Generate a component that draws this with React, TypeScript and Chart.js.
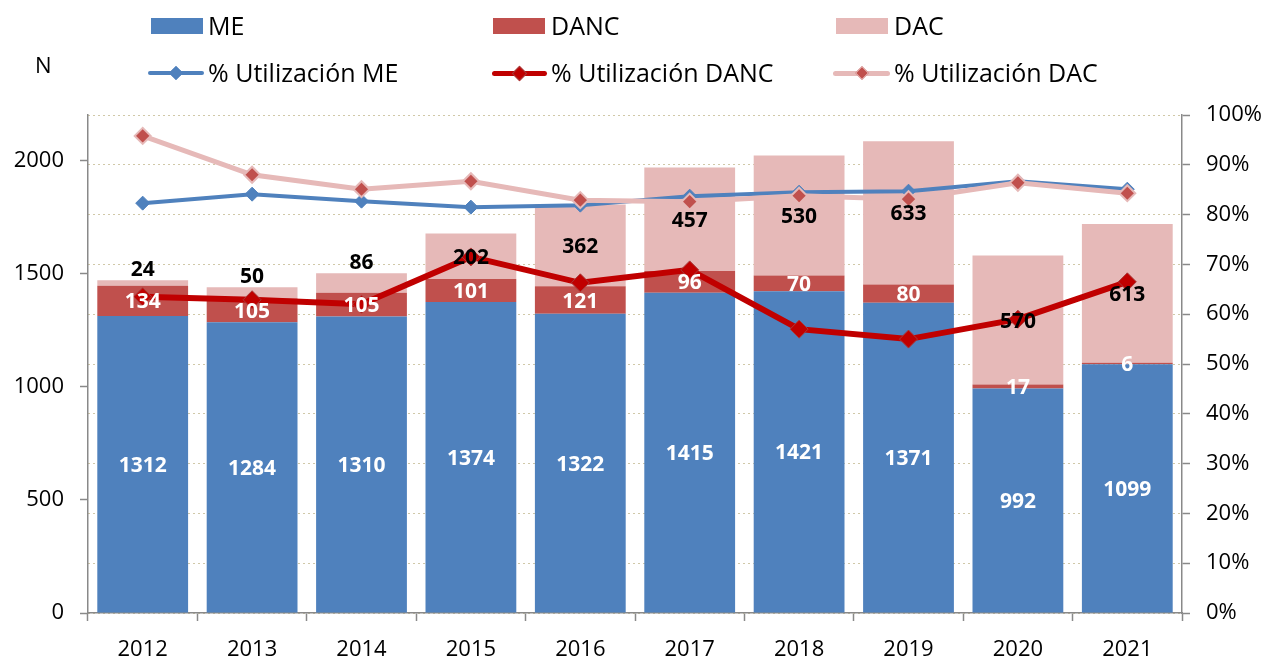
import React, { useEffect, useRef } from 'react';
import { Chart, registerables } from 'chart.js';

Chart.register(...registerables);

// ---- data ----
const years = ['2012', '2013', '2014', '2015', '2016', '2017', '2018', '2019', '2020', '2021'];
const meValues = [1312, 1284, 1310, 1374, 1322, 1415, 1421, 1371, 992, 1099];
const dancValues = [134, 105, 105, 101, 121, 96, 70, 80, 17, 6];
const dacValues = [24, 50, 86, 202, 362, 457, 530, 633, 570, 613];
const pctME = [82.3, 84.1, 82.7, 81.5, 81.9, 83.7, 84.5, 84.7, 86.7, 85.1];
const pctDANC = [63.5, 62.9, 62.0, 71.5, 66.3, 68.9, 57.0, 55.0, 59.0, 66.5];
const pctDAC = [95.8, 88.0, 85.1, 86.7, 82.9, 82.6, 83.8, 83.1, 86.4, 84.3];
const leftTicks = [0, 500, 1000, 1500, 2000];
const leftMax = 2200;
const rightTickStep = 10;

const FONT = '"Open Sans", "Noto Sans", sans-serif';
const AXIS = '#898989';
const C_ME = '#4F81BD';
const C_DANC = '#C0504D';
const C_DAC = '#E6B9B8';
const C_DANC_LINE = '#C00000';

const barLabelPlugin = {
  id: 'barLabels',
  afterDatasetsDraw(chart: any) {
    const ctx = chart.ctx;
    chart.data.datasets.forEach((ds: any, di: number) => {
      if (ds.type !== 'bar') return;
      const meta = chart.getDatasetMeta(di);
      ctx.save();
      ctx.font = `bold 21px ${FONT}`;
      ctx.fillStyle = ds.labelColor;
      ctx.textAlign = 'center';
      ctx.textBaseline = 'alphabetic';
      meta.data.forEach((el: any, i: number) => {
        const p = el.getProps(['x', 'y', 'base'], true);
        const h = Math.abs(p.base - p.y);
        let cy = (p.y + p.base) / 2;
        if (ds.labelAboveIfSmall && h < 22) cy = Math.min(p.y, p.base) - 12;
        ctx.fillText(String(ds.data[i]), p.x, cy + 7.5);
      });
      ctx.restore();
    });
  },
};

const legendRow1 = [
  { label: 'ME', color: C_ME, x: 151, tx: 208 },
  { label: 'DANC', color: C_DANC, x: 493, tx: 551 },
  { label: 'DAC', color: C_DAC, x: 836, tx: 894 },
];
const legendRow2 = [
  { label: '% Utilización ME', line: C_ME, fill: C_ME, edge: C_ME, lw: 4, x: 148, w: 56, d: 10, tx: 208 },
  { label: '% Utilización DANC', line: C_DANC_LINE, fill: C_DANC_LINE, edge: '#A83A3A', lw: 5, x: 492, w: 55, d: 11, tx: 551 },
  { label: '% Utilización DAC', line: C_DAC, fill: C_DANC, edge: C_DAC, lw: 5, x: 833, w: 57, d: 10, tx: 894 },
];

export default function App() {
  const ref = useRef<HTMLCanvasElement>(null);

  useEffect(() => {
    const tickFont = { family: FONT, size: 22 };
    const chart = new Chart(ref.current as HTMLCanvasElement, {
      type: 'bar',
      data: {
        labels: years,
        datasets: [
          {
            type: 'line', label: '% Utilización ME', data: pctME, yAxisID: 'y1', order: 3,
            borderColor: C_ME, borderWidth: 4, pointStyle: 'rectRot', pointRadius: 7,
            pointBackgroundColor: C_ME, pointBorderColor: C_ME, pointBorderWidth: 1, tension: 0,
          },
          {
            type: 'line', label: '% Utilización DANC', data: pctDANC, yAxisID: 'y1', order: 2,
            borderColor: C_DANC_LINE, borderWidth: 6, pointStyle: 'rectRot', pointRadius: 9,
            pointBackgroundColor: C_DANC_LINE, pointBorderColor: '#A83A3A', pointBorderWidth: 1, tension: 0,
          },
          {
            type: 'line', label: '% Utilización DAC', data: pctDAC, yAxisID: 'y1', order: 1,
            borderColor: C_DAC, borderWidth: 5, pointStyle: 'rectRot', pointRadius: 8,
            pointBackgroundColor: C_DANC, pointBorderColor: C_DAC, pointBorderWidth: 2, tension: 0,
          },
          {
            type: 'bar', label: 'ME', data: meValues, yAxisID: 'y', order: 10,
            backgroundColor: C_ME, labelColor: '#FFFFFF',
            barPercentage: 0.83, categoryPercentage: 1,
          } as any,
          {
            type: 'bar', label: 'DANC', data: dancValues, yAxisID: 'y', order: 10,
            backgroundColor: C_DANC, labelColor: '#FFFFFF',
            barPercentage: 0.83, categoryPercentage: 1,
          } as any,
          {
            type: 'bar', label: 'DAC', data: dacValues, yAxisID: 'y', order: 10,
            backgroundColor: C_DAC, labelColor: '#000000', labelAboveIfSmall: true,
            barPercentage: 0.83, categoryPercentage: 1,
          } as any,
        ],
      },
      options: {
        responsive: false,
        animation: false,
        devicePixelRatio: 1,
        layout: { padding: { top: 115, left: 0, right: 0, bottom: 0 } },
        plugins: { legend: { display: false }, tooltip: { enabled: false } },
        scales: {
          x: {
            stacked: true,
            grid: { display: true, drawOnChartArea: false, drawTicks: true, tickLength: 8, tickColor: AXIS, tickWidth: 1.5, offset: true },
            border: { color: AXIS, width: 1.5 },
            ticks: { color: '#000', font: tickFont, padding: 16, maxRotation: 0, autoSkip: false },
            afterFit(s: any) { s.height = 48; },
          },
          y: {
            stacked: true, position: 'left', min: 0, max: leftMax,
            ticks: { color: '#000', font: tickFont, padding: 16, autoSkip: false, callback: (v: any) => String(v) },
            afterBuildTicks(s: any) { s.ticks = leftTicks.map((v) => ({ value: v })); },
            grid: { display: true, drawOnChartArea: false, drawTicks: true, tickLength: 8, tickColor: AXIS, tickWidth: 1.5 },
            border: { color: AXIS, width: 1.5 },
            afterFit(s: any) { s.width = 88; },
          },
          y1: {
            stacked: false, position: 'right', min: 0, max: 100,
            ticks: { stepSize: rightTickStep, color: '#000', font: tickFont, padding: 16, callback: (v: any) => v + '%' },
            grid: { display: true, drawOnChartArea: true, color: '#D0C8A8', lineWidth: 1, drawTicks: true, tickLength: 8, tickColor: AXIS, tickWidth: 1.5, tickBorderDash: [] },
            border: { color: AXIS, width: 1.5, dash: [2, 3] },
            afterFit(s: any) { s.width = 86; },
          },
        },
      } as any,
      plugins: [barLabelPlugin],
    });
    return () => chart.destroy();
  }, []);

  return (
    <div style={{ position: 'fixed', left: 0, top: 0, width: 1268, height: 661, background: '#fff', fontFamily: FONT, color: '#000' }}>
      <canvas ref={ref} width={1268} height={661} style={{ position: 'absolute', left: 0, top: 0, width: 1268, height: 661 }} />
      <div style={{ position: 'absolute', left: 35, top: 53, fontSize: 22, lineHeight: '22px' }}>N</div>
      {legendRow1.map((it) => (
        <React.Fragment key={it.label}>
          <div style={{ position: 'absolute', left: it.x, top: 18, width: 52, height: 16, background: it.color }} />
          <div style={{ position: 'absolute', left: it.tx, top: 13, fontSize: 25, lineHeight: '25px', whiteSpace: 'nowrap' }}>{it.label}</div>
        </React.Fragment>
      ))}
      {legendRow2.map((it) => (
        <React.Fragment key={it.label}>
          <div style={{ position: 'absolute', left: it.x, top: 73 - it.lw / 2, width: it.w, height: it.lw, background: it.line, borderRadius: it.lw / 2 }} />
          <div style={{
            position: 'absolute', left: it.x + it.w / 2 - it.d / 2, top: 73 - it.d / 2, width: it.d, height: it.d,
            background: it.fill, border: `1px solid ${it.edge}`, boxSizing: 'border-box', transform: 'rotate(45deg)',
          }} />
          <div style={{ position: 'absolute', left: it.tx, top: 60, fontSize: 25, lineHeight: '25px', whiteSpace: 'nowrap' }}>{it.label}</div>
        </React.Fragment>
      ))}
    </div>
  );
}
